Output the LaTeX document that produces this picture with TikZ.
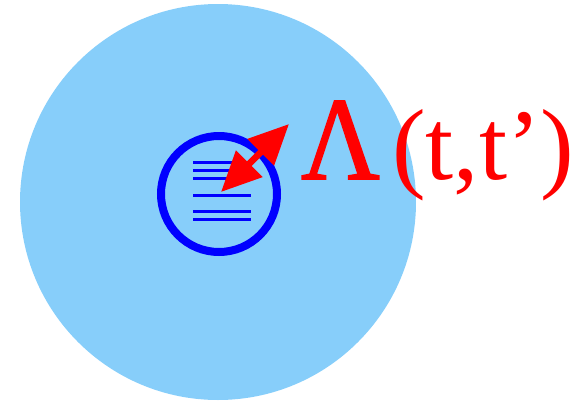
\documentclass[tikz,border=0pt]{standalone}
\usepackage{fontspec}
\setmainfont{Liberation Serif}
\newfontfamily\lamfont[FakeBold=1.5]{Liberation Serif}
\usetikzlibrary{arrows.meta}
\definecolor{skyb}{HTML}{87CEFA}
\definecolor{pblue}{HTML}{0000FF}
\definecolor{pred}{HTML}{FF0000}
\tikzset{
  doc line/.style={draw=pblue, line width=3pt},
  link arrow/.style={draw=pred, line width=6.5pt,
    {Triangle[length=40pt,width=36pt]}-{Triangle[length=40pt,width=36pt]}},
  label text/.style={text=pred, inner sep=0pt, anchor=base west}
}
\begin{document}
\begin{tikzpicture}[x=1pt,y=-1pt]
\useasboundingbox (0,0) rectangle (579,402);
\fill[skyb] (218,202) circle[radius=198];
\draw[pblue, line width=8pt] (219,194) circle[radius=58];
\foreach \yy in {162.3,170.3,178.7,195.3,211,219.3}
  \draw[doc line] (193,\yy) -- (251,\yy);
\coordinate (a) at (221,192);
\coordinate (b) at (289,124);
\draw[link arrow] (a) -- (b);
\node[label text, font=\lamfont\fontsize{118}{118}\selectfont, xscale=0.92] (lam) at (301,179) {Λ};
\node[label text, font=\fontsize{101}{101}\selectfont] (arg) at (392,179) {(t,t’)};
\end{tikzpicture}
\end{document}
